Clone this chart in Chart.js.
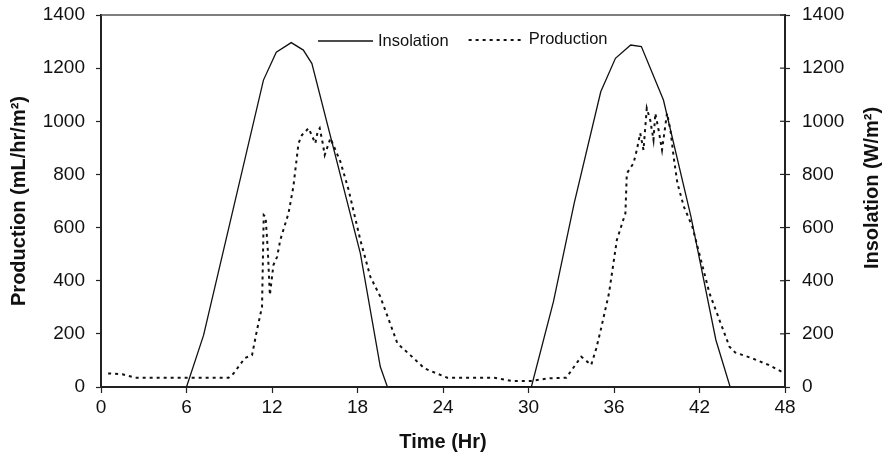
<!DOCTYPE html>
<html><head><meta charset="utf-8">
<script src="https://cdn.jsdelivr.net/npm/chart.js@4"></script>
<style>html,body{margin:0;padding:0;background:#fff}#wrap{width:886px;height:454px;position:relative}</style>
</head><body><div id="wrap"><canvas id="c"></canvas></div>
<script>
// ---- data ----
const insolHours  = [6.0, 7.2, 11.4, 12.3, 13.35, 14.2, 14.8, 18.2, 19.6, 20.1, 30.2, 31.75, 33.2, 35.07, 36.1, 37.17, 37.92, 39.47, 41.4, 43.15, 44.15];
const insolValues = [0, 195, 1155, 1260, 1296, 1268, 1217, 503, 76, 0, 0, 321, 690, 1111, 1237, 1287, 1281, 1080, 641, 177, 0];

const prodHours  = [0.5, 1.5, 2.4, 4.0, 6.0, 8.96, 9.3, 10.1, 10.6, 10.95, 11.3, 11.42, 11.55, 11.7, 11.85, 12.1, 12.36, 12.58, 13.16, 13.5, 13.86, 14.1, 14.57, 15.04, 15.2, 15.35, 15.55, 15.7, 16.1, 16.8, 17.38, 18.2, 18.9, 19.6, 20.8, 21.7, 22.7, 24.3, 27.6, 28.8, 30.2, 31.5, 32.65, 33.7, 34.4, 34.76, 35.07, 35.65, 36.2, 36.8, 36.9, 37.37, 37.6, 37.84, 38.07, 38.3, 38.54, 38.77, 38.9, 39.13, 39.37, 39.72, 39.96, 40.2, 40.45, 40.9, 41.5, 42.1, 42.7, 43.4, 44.1, 44.5, 45.7, 46.85, 48.0];
const prodValues = [51, 48, 35, 35, 35, 35, 51, 109, 120, 215, 302, 647, 640, 520, 346, 459, 490, 553, 654, 754, 917, 948, 974, 917, 960, 974, 920, 873, 936, 848, 741, 553, 415, 340, 164, 120, 70, 35, 35, 23, 23, 33, 35, 114, 83, 146, 215, 353, 553, 654, 804, 842, 892, 955, 892, 1049, 1005, 930, 1030, 967, 892, 1030, 967, 860, 767, 679, 603, 478, 353, 252, 152, 130, 108, 83, 51];

const xTickValues = [0, 6, 12, 18, 24, 30, 36, 42, 48];
const yTickValues = [0, 200, 400, 600, 800, 1000, 1200, 1400];

const seriesNames = ['Insolation', 'Production'];
const axisTitles = {x: 'Time (Hr)', y: 'Production (mL/hr/m\u00B2)', y2: 'Insolation (W/m\u00B2)'};

// ---- build ----
const FONT = "'Liberation Sans', Arial, Helvetica, sans-serif";
const toPts = (xs, ys) => xs.map((x, i) => ({x: x, y: ys[i]}));
const AXIS = '#222';

const frameAndLegend = {
  id: 'frameAndLegend',
  afterDraw(chart) {
    const ctx = chart.ctx, a = chart.chartArea;
    ctx.save();
    // top frame line
    ctx.strokeStyle = '#555'; ctx.lineWidth = 1.5;
    ctx.beginPath(); ctx.moveTo(a.left, a.top); ctx.lineTo(a.right, a.top); ctx.stroke();
    // inner ticks on right axis
    const y2 = chart.scales.y2;
    ctx.strokeStyle = AXIS; ctx.lineWidth = 1.2;
    y2.ticks.forEach(t => {
      const py = y2.getPixelForValue(t.value);
      ctx.beginPath(); ctx.moveTo(a.right - 5, py); ctx.lineTo(a.right, py); ctx.stroke();
    });
    // right axis title, reading bottom-to-top
    ctx.save();
    ctx.font = 'bold 20px ' + FONT;
    ctx.fillStyle = '#111';
    ctx.textAlign = 'center'; ctx.textBaseline = 'middle';
    ctx.translate(y2.right - 14, (a.top + a.bottom) / 2 - 13);
    ctx.rotate(-Math.PI / 2);
    ctx.fillText(axisTitles.y2, 0, 0);
    ctx.restore();
    // legend inside plot
    const ds = chart.data.datasets;
    ctx.font = '16.5px ' + FONT;
    ctx.textBaseline = 'middle';
    ctx.textAlign = 'left';
    ctx.fillStyle = '#111';
    let x = a.left + 217;
    const ly = a.top + 26;
    ds.forEach((d, i) => {
      ctx.strokeStyle = d.borderColor;
      ctx.lineWidth = i === 0 ? 1.3 : 2;
      ctx.setLineDash(d.borderDash || []);
      ctx.beginPath(); ctx.moveTo(x, ly + (i === 0 ? 0 : -1)); ctx.lineTo(x + 55, ly + (i === 0 ? 0 : -1)); ctx.stroke();
      ctx.setLineDash([]);
      x += 60;
      ctx.fillText(d.label, x, ly + (i === 0 ? 0 : -2));
      x += ctx.measureText(d.label).width + 20;
    });
    ctx.restore();
  }
};

const tickFont = {family: FONT, size: 19};
const titleFont = {family: FONT, size: 20, weight: 'bold'};
const plain = v => String(v);
const noPad = s => { s.paddingTop = 0; s.paddingBottom = 0; s.paddingLeft = 0; s.paddingRight = 0; };

new Chart(document.getElementById('c'), {
  type: 'line',
  data: {
    datasets: [
      {label: seriesNames[0], data: toPts(insolHours, insolValues), yAxisID: 'y2',
       borderColor: '#111', borderWidth: 1.3, pointRadius: 0, tension: 0, fill: false},
      {label: seriesNames[1], data: toPts(prodHours, prodValues), yAxisID: 'y',
       borderColor: '#111', borderWidth: 2, borderDash: [3, 4], pointRadius: 0, tension: 0, fill: false}
    ]
  },
  options: {
    responsive: true, maintainAspectRatio: false, animation: false,
    layout: {padding: {top: 15, left: 0, right: 0, bottom: 0}},
    plugins: {legend: {display: false}, tooltip: {enabled: false}},
    scales: {
      x: {
        type: 'linear', min: 0, max: 48,
        afterBuildTicks: s => { s.ticks = xTickValues.map(v => ({value: v})); },
        afterFit: s => { s.height = 67; noPad(s); },
        ticks: {font: tickFont, color: '#111', padding: 3, maxRotation: 0, autoSkip: false, callback: plain},
        grid: {drawOnChartArea: false, tickLength: 6, color: AXIS, tickWidth: 1.2},
        border: {color: AXIS, width: 2},
        title: {display: true, text: axisTitles.x, font: titleFont, color: '#111', padding: {top: 2, bottom: 0}}
      },
      y: {
        position: 'left', min: 0, max: 1400,
        afterBuildTicks: s => { s.ticks = yTickValues.map(v => ({value: v})); },
        afterFit: s => { s.width = 101; noPad(s); },
        ticks: {font: tickFont, color: '#111', padding: 11, callback: plain},
        grid: {drawOnChartArea: false, tickLength: 5, color: AXIS, tickWidth: 1.2},
        border: {color: AXIS, width: 2},
        title: {display: true, text: axisTitles.y, font: titleFont, color: '#111', padding: {top: 7, bottom: 0}}
      },
      y2: {
        position: 'right', min: 0, max: 1400,
        afterBuildTicks: s => { s.ticks = yTickValues.map(v => ({value: v})); },
        afterFit: s => { s.width = 101; noPad(s); },
        ticks: {font: tickFont, color: '#111', padding: 12, callback: plain},
        grid: {drawOnChartArea: false, tickLength: 5, color: AXIS, tickWidth: 1.2},
        border: {color: AXIS, width: 2},
        title: {display: false, text: axisTitles.y2}
      }
    }
  },
  plugins: [frameAndLegend]
});
</script>
</body></html>
